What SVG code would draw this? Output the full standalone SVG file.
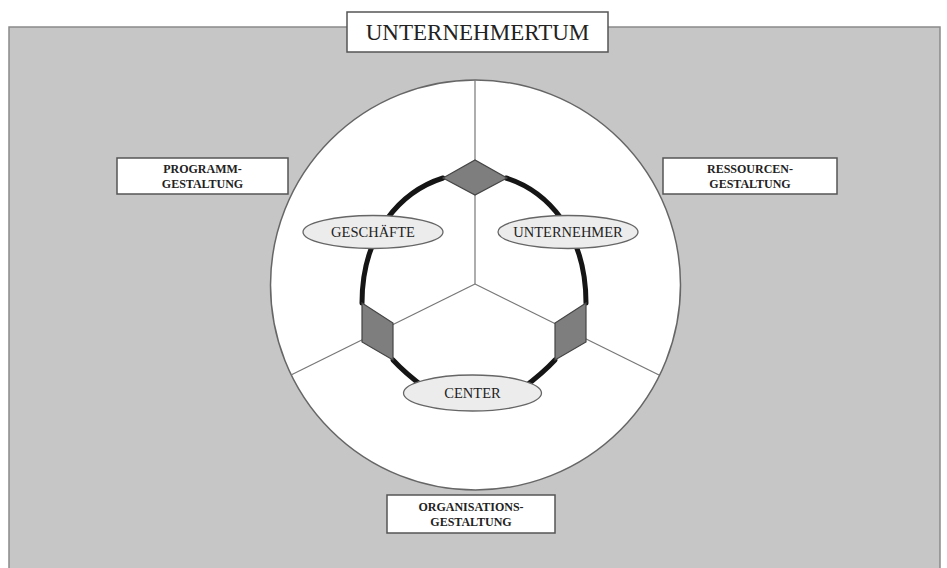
<svg xmlns="http://www.w3.org/2000/svg" width="947" height="568" viewBox="0 0 947 568">
<defs>
<style>
.bg{fill:#c6c6c6;stroke:#8a8a8a;stroke-width:1.5}
.box{fill:#ffffff;stroke:#555555;stroke-width:1.5}
.lbl{font-family:"Liberation Serif","Times New Roman",serif;font-weight:bold;font-size:12px;fill:#222222;text-anchor:middle}
.title{font-family:"Liberation Serif","Times New Roman",serif;font-size:23px;fill:#222222;text-anchor:middle}
.oval{fill:#ececec;stroke:#666666;stroke-width:1.3}
.otxt{font-family:"Liberation Serif","Times New Roman",serif;font-size:14.5px;fill:#222222;text-anchor:middle}
.div{stroke:#777777;stroke-width:1.2;fill:none}
.ring{stroke:#151515;stroke-width:5;fill:none;stroke-linecap:round}
.dia{fill:#7e7e7e;stroke:#444444;stroke-width:1.2}
</style>
</defs>
<rect class="bg" x="9" y="27" width="931" height="548"/>
<g id="circle">
<circle cx="475.5" cy="285" r="205" fill="#ffffff" stroke="#666666" stroke-width="1.5"/>
</g>
<g id="connectors">
<line class="div" x1="475" y1="80" x2="475" y2="284"/>
<line class="div" x1="475" y1="284" x2="291" y2="375"/>
<line class="div" x1="475" y1="284" x2="659" y2="375"/>
<path class="ring" d="M443,178 C402,191 362,232 362,303"/>
<path class="ring" d="M506,178 C547,191 586,232 586,303"/>
<path class="ring" d="M393,360 Q405,373 425,388"/>
<path class="ring" d="M555,360 Q543,373 523,388"/>
</g>
<g id="diamond-top"><polygon class="dia" points="443,178 475,160 507,178 475,195"/></g>
<g id="diamond-left"><polygon class="dia" points="362,303 393,323 393,360 362,342"/></g>
<g id="diamond-right"><polygon class="dia" points="586,303 555,323 555,360 586,342"/></g>
<g id="title">
<rect class="box" x="347" y="12" width="261" height="40"/>
<text class="title" x="477.5" y="39.5">UNTERNEHMERTUM</text>
</g>
<g id="programm">
<rect class="box" x="117" y="158" width="171" height="36"/>
<text class="lbl" x="202.5" y="173">PROGRAMM-</text>
<text class="lbl" x="202.5" y="188">GESTALTUNG</text>
</g>
<g id="ressourcen">
<rect class="box" x="663" y="158" width="174" height="36"/>
<text class="lbl" x="750" y="173">RESSOURCEN-</text>
<text class="lbl" x="750" y="188">GESTALTUNG</text>
</g>
<g id="organisation">
<rect class="box" x="387" y="495" width="168" height="38"/>
<text class="lbl" x="471" y="511">ORGANISATIONS-</text>
<text class="lbl" x="471" y="526">GESTALTUNG</text>
</g>
<g id="geschaefte">
<ellipse class="oval" cx="373" cy="232" rx="70" ry="16.5"/>
<text class="otxt" x="373" y="237">GESCHÄFTE</text>
</g>
<g id="unternehmer">
<ellipse class="oval" cx="568" cy="232" rx="70" ry="16.5"/>
<text class="otxt" x="568" y="237">UNTERNEHMER</text>
</g>
<g id="center">
<ellipse class="oval" cx="472.5" cy="393" rx="69" ry="18"/>
<text class="otxt" x="472.5" y="398">CENTER</text>
</g>
</svg>
